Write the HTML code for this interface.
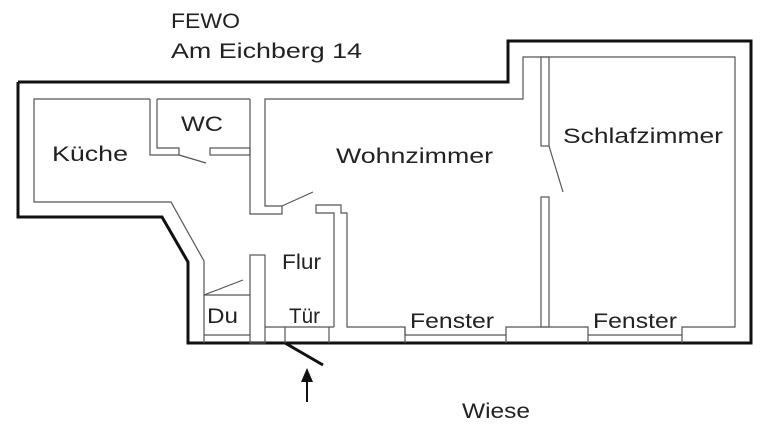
<!DOCTYPE html>
<html><head><meta charset="utf-8"><style>
body{margin:0;background:#fff;width:760px;height:437px;overflow:hidden}
svg{display:block}
text{font-family:"Liberation Sans",sans-serif;font-size:21px;fill:#222}
</style></head><body>
<svg width="760" height="437" viewBox="0 0 760 437">
<g fill="none" stroke="#111" stroke-width="3">
<polyline points="18,82 508,82 508,41 751,41 751,343 188,343 188,262 162,217 18,217 18,82"/>
<line x1="285" y1="343" x2="323" y2="365"/>
</g>
<g fill="none" stroke="#555" stroke-width="1.2">
<polyline points="150,99 34,99 34,202 171,202 204,261 204,343"/>
<polyline points="150,99 150,155 179,155"/>
<polyline points="157,99 157,148 179,148 179,155"/>
<line x1="179" y1="155" x2="206" y2="163"/>
<rect x="210" y="148" width="40" height="7"/>
<line x1="157" y1="99" x2="250" y2="99"/>
<polyline points="250,99 250,214 282,214 282,206 265,206 265,99 523,99 523,57 735,57 735,327 682,327 682,335 588,335 588,327 506,327 506,335 405,335 405,327 347,327 347,213 341,213 341,205 316,205 316,213 334,213 334,327"/>
<line x1="282" y1="206" x2="313" y2="192"/>
<rect x="541" y="57" width="8" height="89"/>
<rect x="541" y="197" width="8" height="130"/>
<line x1="549" y1="146" x2="563" y2="192"/>
<rect x="250" y="255" width="15" height="88"/>
<line x1="204" y1="295" x2="250" y2="295"/>
<line x1="204" y1="295" x2="243" y2="280"/>
<line x1="204" y1="335" x2="250" y2="335"/>
<line x1="265" y1="327" x2="334" y2="327"/>
<line x1="285" y1="327" x2="285" y2="343"/>
<line x1="329" y1="327" x2="329" y2="343"/>
<line x1="405" y1="327" x2="405" y2="343"/>
<line x1="506" y1="335" x2="506" y2="343"/>
<line x1="588" y1="335" x2="588" y2="343"/>
<line x1="682" y1="335" x2="682" y2="343"/>
</g>
<line x1="307" y1="402" x2="307" y2="380" stroke="#111" stroke-width="2"/>
<polygon points="301,382 313,382 307,368" fill="#111"/>
<g lengthAdjust="spacingAndGlyphs">
<text x="171" y="28" textLength="69" lengthAdjust="spacingAndGlyphs">FEWO</text>
<text x="171" y="58" textLength="191" lengthAdjust="spacingAndGlyphs">Am Eichberg 14</text>
<text x="181" y="131" textLength="42" lengthAdjust="spacingAndGlyphs">WC</text>
<text x="52" y="161" textLength="76" lengthAdjust="spacingAndGlyphs">Küche</text>
<text x="336" y="163" textLength="157" lengthAdjust="spacingAndGlyphs">Wohnzimmer</text>
<text x="563" y="143" textLength="160" lengthAdjust="spacingAndGlyphs">Schlafzimmer</text>
<text x="282" y="269" textLength="39" lengthAdjust="spacingAndGlyphs">Flur</text>
<text x="207" y="323" textLength="31" lengthAdjust="spacingAndGlyphs">Du</text>
<text x="289" y="323" textLength="31" lengthAdjust="spacingAndGlyphs">Tür</text>
<text x="410" y="328" textLength="84" lengthAdjust="spacingAndGlyphs">Fenster</text>
<text x="593" y="328" textLength="84" lengthAdjust="spacingAndGlyphs">Fenster</text>
<text x="462" y="418" textLength="68" lengthAdjust="spacingAndGlyphs">Wiese</text>
</g>
</svg>
</body></html>
